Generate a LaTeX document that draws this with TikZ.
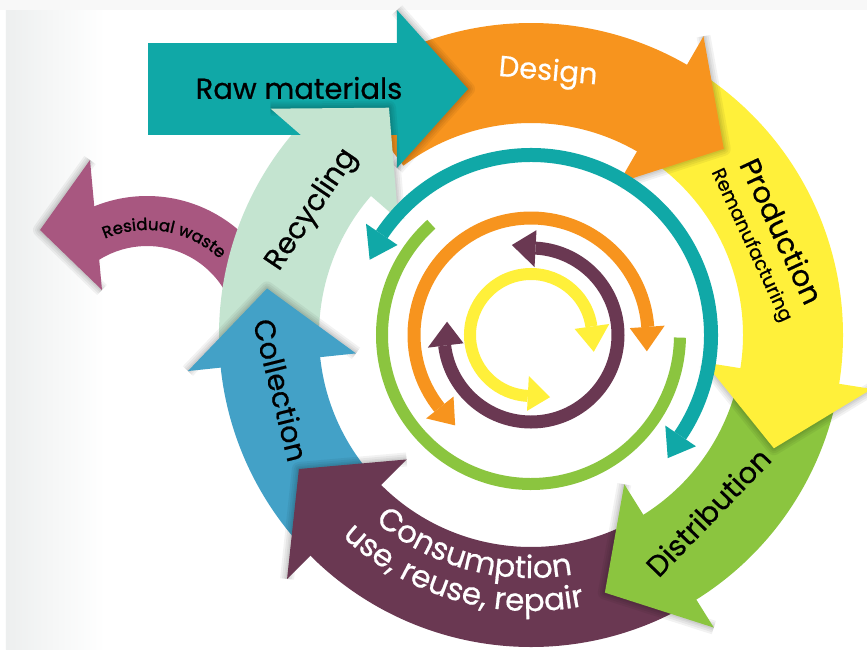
\documentclass[tikz,border=0pt]{standalone}
\usepackage{fontspec}
\setmainfont{Poppins}
\newfontfamily\lblfont{Poppins}[FakeBold=0.6]
\newfontfamily\heavyfont{Poppins}[FakeBold=1.6]
\usetikzlibrary{decorations.text}
\definecolor{cteal}{RGB}{16,168,167}
\definecolor{corange}{RGB}{247,148,30}
\definecolor{cyellow}{RGB}{255,240,58}
\definecolor{cgreen}{RGB}{139,197,63}
\definecolor{cplum}{RGB}{106,56,82}
\definecolor{cblue}{RGB}{67,161,199}
\definecolor{cmint}{RGB}{196,228,208}
\definecolor{cpink}{RGB}{168,87,128}
\definecolor{bggray}{RGB}{237,239,239}
\definecolor{topgray}{RGB}{248,248,248}
% soft shadow along the two outer edges of an arrow head, then the head itself
\newcommand\glow[1]{%
  \foreach \w in {14,10,6,3}{\draw[black,opacity=0.05,line width=\w,line join=round] #1;}%
  \fill #1 -- cycle;}
\newcommand\band[3]{\fill[#3] (#1:312) arc[start angle=#1,end angle=#2,radius=312] -- (#2:212) arc[start angle=#2,end angle=#1,radius=212] -- cycle;}
\newcommand\rhead[3]{\begin{scope}[fill=#3]\glow{(#1:345) -- (#2:268) -- (#1:176)}\end{scope}}
\newcommand\ringtip[6]{\fill[#1] (#2:#4) -- (#2:#5) -- (#3:#6) -- cycle;}
\begin{document}
\begin{tikzpicture}[x=1pt,y=1pt,
  lbl/.style={font=\lblfont\fontsize{29}{31}\selectfont,inner sep=0pt,text=black},
  twolbl/.style={font=\lblfont\fontsize{29}{31}\selectfont,inner sep=0pt,align=center},
  ring/.style={line width=#1}]
\useasboundingbox (-531,-314) rectangle (336,335);
\fill[white] (-531,-314) rectangle (336,335);
\shade[left color=bggray,right color=white] (-525,-314) rectangle (-426,325);
\fill[topgray] (-531,325) rectangle (336,335);
% residual waste band
\begin{scope}[shift={(-384,-1)}]
\fill[cpink] (15:140) arc[start angle=15,end angle=125,radius=140] -- (125:90) arc[start angle=125,end angle=15,radius=90] -- cycle;
\end{scope}
% ring bands (each starts under the previous head, ends under its own head)
\band{127}{59}{corange}
\band{59}{-10}{cyellow}
\band{-10}{-59}{cgreen}
\band{-59}{-136}{cplum}
\band{-136}{-175}{cblue}
\band{185}{138}{cmint}
% raw materials body
\fill[cteal] (-383,200) rectangle (-134,292);
% heads
\begin{scope}[fill=cpink]\glow{(-441,175) -- (-491,105) -- (-429,45)}\end{scope}
\begin{scope}[fill=cteal]\glow{(-134,325) -- (-63,246) -- (-134,167)}\end{scope}
\rhead{60}{44}{corange}
\rhead{-9}{-25}{cyellow}
\rhead{-58}{-74}{cgreen}
\rhead{-135}{-150}{cplum}
\rhead{-174}{-190}{cblue}
\rhead{139}{122}{cmint}
% inner rings
\draw[cteal,ring=14] (146:180) arc[start angle=146,end angle=-34,radius=180];
\ringtip{cteal}{146}{155}{161}{199}{178}
\ringtip{cteal}{-34}{-42}{162}{199}{184}
\draw[cgreen,ring=12] (132:149) arc[start angle=132,end angle=359,radius=149];
\draw[corange,ring=13] (218.5:117) arc[start angle=218.5,end angle=4,radius=117];
\ringtip{corange}{218.5}{230}{99}{134}{118}
\ringtip{corange}{4}{-8}{99}{134}{117}
\draw[cplum,ring=13] (87:87) arc[start angle=87,end angle=-173,radius=87];
\ringtip{cplum}{87}{102}{68}{105}{92}
\ringtip{cplum}{187}{171}{68}{104}{85}
\draw[cyellow,ring=12] (8:61) arc[start angle=8,end angle=267,radius=61];
\ringtip{cyellow}{8}{-15}{44}{79}{65}
\ringtip{cyellow}{267}{287}{41}{76}{65}
% labels
\node[lbl] (raw) at (-232,247) {Raw materials};
\node[lbl,text=white,rotate=-5] (design) at (17,262) {Design};
\node[twolbl,rotate=-65] (prod) at (236,97) {Production\\[-3pt]{\fontsize{19}{21}\selectfont Remanufacturing}};
\node[lbl,rotate=46] (distr) at (177,-177) {Distribution};
\path[decorate,decoration={text along path,text align=center,text color=white,
  text={|\lblfont\fontsize{31}{33}\selectfont|Consumption}}]
  (-172:243) arc[start angle=-172,end angle=-38,radius=243];
\path[decorate,decoration={text along path,text align=center,text color=white,
  text={|\lblfont\fontsize{31}{33}\selectfont|use, reuse, repair}}]
  (-172:276) arc[start angle=-172,end angle=-40,radius=276];
\node[lbl,rotate=-76] (coll) at (-250,-55) {Collection};
\node[lbl,rotate=56] (recy) at (-219,125) {Recycling};
\begin{scope}[shift={(-384,-1)}]
\path[decorate,decoration={text along path,text align=center,
  text={|\heavyfont\fontsize{16.5}{18}\selectfont|Residual waste}}]
  (150:106) arc[start angle=150,end angle=10,radius=106];
\end{scope}
\end{tikzpicture}
\end{document}
